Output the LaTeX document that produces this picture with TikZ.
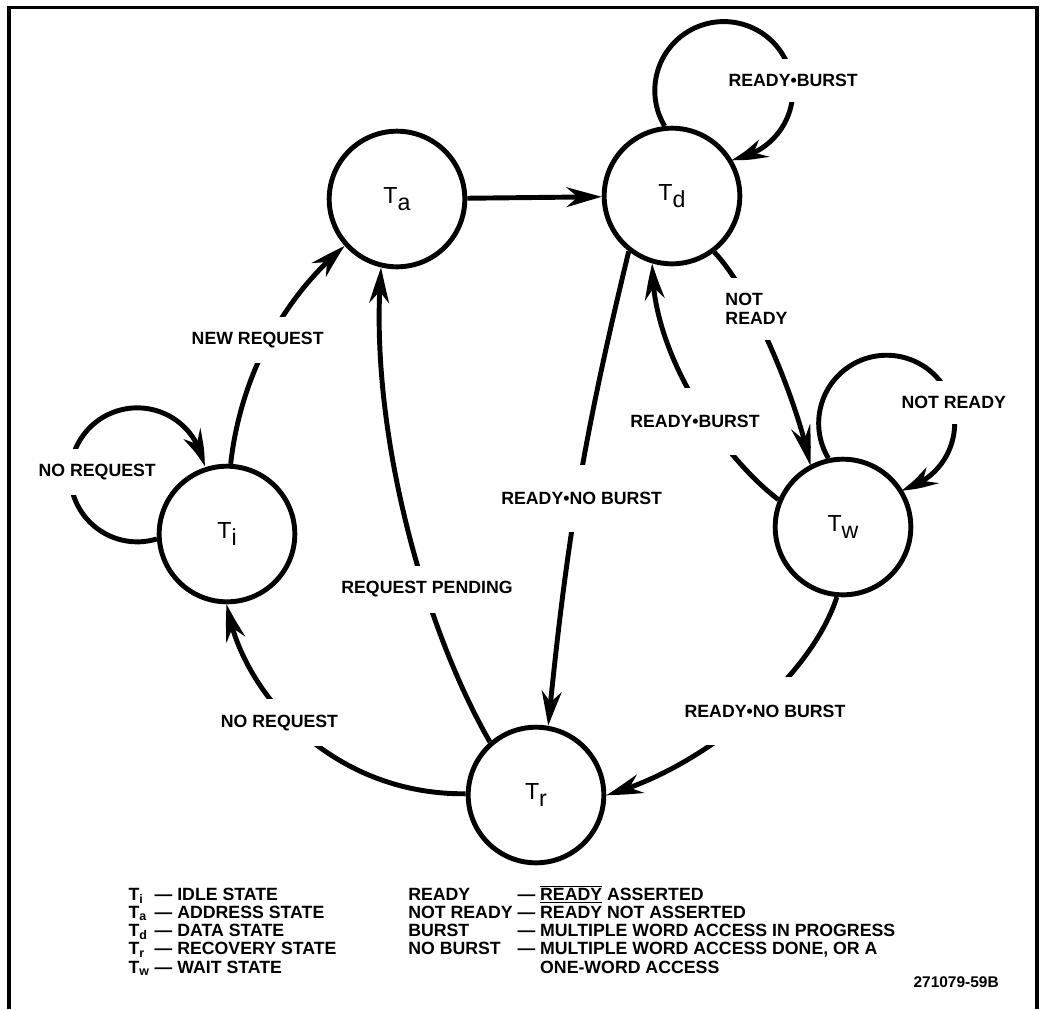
\documentclass[tikz,border=0pt]{standalone}
\usepackage{fontspec}
\setmainfont{Liberation Sans}
\usepackage{tikz}
\usetikzlibrary{arrows.meta, bending, positioning}

\begin{document}
\begin{tikzpicture}[x=0.025cm, y=0.025cm,
    >={Stealth[length=25pt, width=14pt, inset=8pt, bend]},
    state/.style={circle, draw, line width=3.5pt, minimum size=3.39cm, inner sep=0pt, font=\fontsize{16.5}{18}\selectfont},
    trans/.style={->, line width=3.5pt},
    lbl/.style={fill=white, inner xsep=2pt, inner ysep=11pt, font=\fontsize{12.6}{13}\selectfont\bfseries},
    wide/.style={inner ysep=19.5pt}]
    %\draw[help lines, step=50] (0,0) grid (1045,-1009);
    \useasboundingbox (0,0) rectangle (1045,-1009);

    \draw[line width=2.6pt] (8.7,-1009) -- (8.7,-7.5) -- (1037.3,-7.5) -- (1037.3,-1009);

    \node[state] (ta) at (397,-199) {T\raisebox{-0.3em}{a}};
    \node[state] (td) at (672,-196) {T\raisebox{-0.3em}{d}};
    \node[state] (ti) at (227,-534) {T\raisebox{-0.3em}{i}};
    \node[state] (tw) at (843,-527) {T\raisebox{-0.3em}{w}};
    \node[state] (tr) at (536,-795) {T\raisebox{-0.3em}{r}};

    \draw[trans] (ti.87) .. controls (240,-380) and (280,-300) .. (ta.222);
    \draw[trans] (ti.184) arc[start angle=-73, end angle=-353, radius=67];
    \draw[trans] (tr.179) .. controls (330,-795) and (240,-690) .. (ti.270);
    \draw[trans] (tr.131) .. controls (420,-620) and (368,-420) .. (ta.257);
    \draw[trans] (ta) -- (td);
    \draw[trans] (td.96) arc[start angle=211, end angle=-84, radius=69];
    \draw[trans] (td.232) to[bend right=4] (tr.80);
    \draw[trans] (td.307) .. controls (755,-295) and (800,-410) .. (tw.118);
    \draw[trans] (tw.157) .. controls (720,-455) and (650,-350) .. (td.254);
    \draw[trans] (tw.102) arc[start angle=211, end angle=-78, radius=68];
    \draw[trans] (tw.265) .. controls (810,-680) and (700,-770) .. (tr.0);

    \node[lbl] (newreq) at (257.7,-340) {NEW REQUEST};
    \node[lbl] (noreqloop) at (97.2,-472) {NO REQUEST};
    \node[lbl] (reqpend) at (427,-589.5) {REQUEST PENDING};
    \node[lbl] (noreq) at (279.5,-722.7) {NO REQUEST};
    \node[lbl] (burstloop) at (793.2,-80.7) {READY\textbullet BURST};
    \node[lbl] (notreadyloop) at (953.7,-402.7) {NOT READY};
    \node[lbl, wide] (burst) at (695,-421.3) {READY\textbullet BURST};
    \node[lbl, align=left] (notready) at (756.5,-308.7) {NOT\\READY};
    \node[lbl, wide] (noburst) at (581.7,-498.5) {READY\textbullet NO BURST};
    \node[lbl, wide] (noburstw) at (765,-711) {READY\textbullet NO BURST};

    \node[anchor=base west, inner sep=0pt, font=\fontsize{12.6}{13}\selectfont\bfseries] (states) at (128.3,-900) {%
      \begin{tabular}[t]{@{}l@{\ }l@{}}
        T\textsubscript{i} & \textemdash{} IDLE STATE\\
        T\textsubscript{a} & \textemdash{} ADDRESS STATE\\
        T\textsubscript{d} & \textemdash{} DATA STATE\\
        T\textsubscript{r} & \textemdash{} RECOVERY STATE\\
        T\textsubscript{w} & \textemdash{} WAIT STATE
      \end{tabular}};

    \node[anchor=base west, inner sep=0pt, font=\fontsize{12.6}{13}\selectfont\bfseries] (conds) at (408,-900) {%
      \begin{tabular}[t]{@{}l@{\ }l@{\ }l@{}}
        READY & \textemdash & \smash{$\overline{\mbox{\underline{READY}}}$} ASSERTED\\
        NOT READY & \textemdash & READY NOT ASSERTED\\
        BURST & \textemdash & MULTIPLE WORD ACCESS IN PROGRESS\\
        NO BURST & \textemdash & MULTIPLE WORD ACCESS DONE, OR A\\
        & & ONE-WORD ACCESS
      \end{tabular}};

    \node[anchor=base east, inner sep=0pt, font=\fontsize{11}{13}\selectfont\bfseries] (figno) at (999,-987) {271079-59B};

  \end{tikzpicture}
\end{document}
